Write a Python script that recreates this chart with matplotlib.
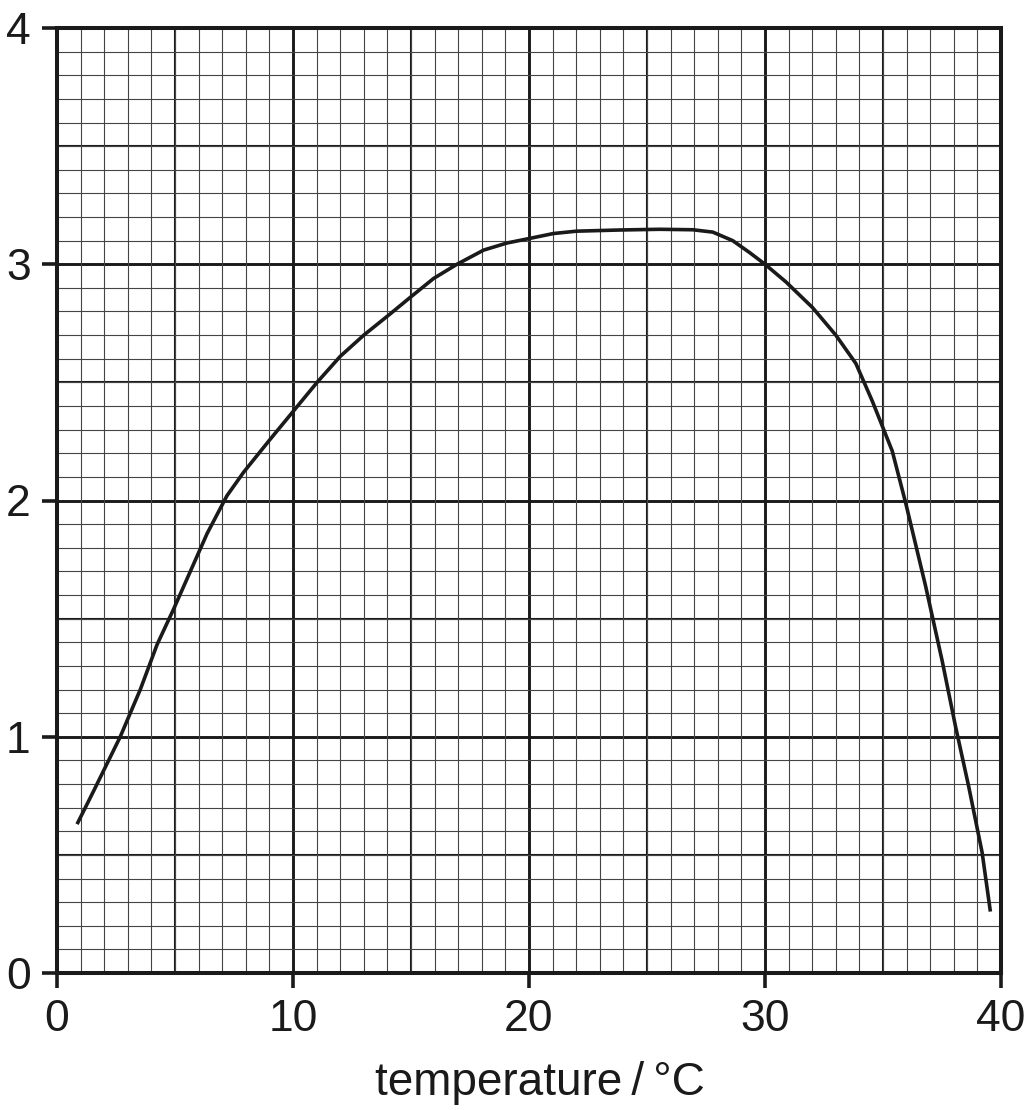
import numpy as np
import matplotlib
matplotlib.use("Agg")
import matplotlib.pyplot as plt
from matplotlib.ticker import MultipleLocator

plt.rcParams["font.family"] = ["Liberation Sans", "DejaVu Sans"]

# ── data ───────────────────────────────────────────────────────────────────
temperature = [0.85, 1.55, 2.68, 3.53, 4.24, 4.94, 5.65, 6.36, 7.2, 7.91,
               9.04, 10.03, 11.02, 12.0, 13.0, 14.12, 14.97, 15.96, 16.95,
               18.08, 19.07, 20.06, 21.03, 22.01, 23.85, 25.54, 26.94, 27.79,
               28.63, 29.34, 30.0, 30.89, 32.01, 33.0, 33.85, 34.55, 35.39,
               35.96, 36.8, 37.51, 38.07, 38.63, 39.2, 39.55]
rate = [0.63, 0.77, 1.0, 1.2, 1.39, 1.54, 1.70, 1.86, 2.02, 2.12,
        2.26, 2.38, 2.50, 2.61, 2.70, 2.79, 2.86, 2.94, 3.0,
        3.06, 3.09, 3.11, 3.13, 3.14, 3.145, 3.148, 3.146, 3.136,
        3.10, 3.05, 3.0, 2.925, 2.817, 2.70, 2.58, 2.42, 2.21,
        1.99, 1.64, 1.32, 1.045, 0.79, 0.51, 0.26]

x_ticks = [0, 10, 20, 30, 40]
y_ticks = [0, 1, 2, 3, 4]

INK = "#1a1a1a"

fig = plt.figure(figsize=(10.28, 11.10), dpi=100)
ax = fig.add_axes([57 / 1028, 137 / 1110, 944 / 1028, 945 / 1110])

ax.set_xlim(0, 40)
ax.set_ylim(0, 4)

# ── graph paper grid ──────────────────────────────────────────────────────
ax.xaxis.set_minor_locator(MultipleLocator(1))
ax.yaxis.set_minor_locator(MultipleLocator(0.1))
ax.grid(True, which="minor", color="#444444", linewidth=0.8, zorder=0)
for v in np.arange(5, 40, 10):
    ax.axvline(v, color=INK, linewidth=1.5, zorder=1)
for v in np.arange(0.5, 4, 1):
    ax.axhline(v, color=INK, linewidth=1.5, zorder=1)
for v in x_ticks[1:-1]:
    ax.axvline(v, color=INK, linewidth=2.1, zorder=1)
for v in y_ticks[1:-1]:
    ax.axhline(v, color=INK, linewidth=2.1, zorder=1)

ax.plot(temperature, rate, color=INK, linewidth=2.6, zorder=3,
        solid_capstyle="butt", solid_joinstyle="round")

# ── axes styling ─────────────────────────────────────────────────────────
ax.set_xticks(x_ticks)
ax.set_yticks(y_ticks)
ax.tick_params(which="major", length=11, width=2.6, color=INK,
               labelsize=32, labelcolor=INK, pad=8)
ax.tick_params(which="minor", length=0)
for s in ax.spines.values():
    s.set_linewidth(2.9)
    s.set_color(INK)
    s.set_zorder(4)

ax.set_xlabel("temperature\u2009/\u2009°C", fontsize=33, color=INK)
ax.xaxis.set_label_coords(0.512, -0.093)

fig.savefig("out.png", dpi=100)
